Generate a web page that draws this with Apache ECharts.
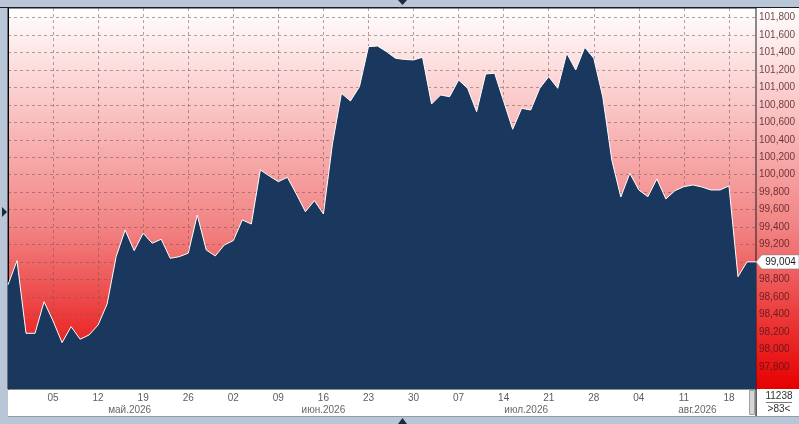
<!DOCTYPE html>
<html><head><meta charset="utf-8">
<script src="https://cdn.jsdelivr.net/npm/echarts@6/dist/echarts.min.js"></script>
<style>html,body{margin:0;padding:0;background:#b8c6d8;}#c{width:799px;height:424px;}</style>
</head><body><div id="c"></div>
<script>
// ---- data ----
const categories = [
 '2026-04-28','2026-04-29','2026-04-30','2026-05-01','2026-05-04',
 '2026-05-05','2026-05-06','2026-05-07','2026-05-08','2026-05-11',
 '2026-05-12','2026-05-13','2026-05-14','2026-05-15','2026-05-18',
 '2026-05-19','2026-05-20','2026-05-21','2026-05-22','2026-05-25',
 '2026-05-26','2026-05-27','2026-05-28','2026-05-29','2026-06-01',
 '2026-06-02','2026-06-03','2026-06-04','2026-06-05','2026-06-08',
 '2026-06-09','2026-06-10','2026-06-11','2026-06-12','2026-06-15',
 '2026-06-16','2026-06-17','2026-06-18','2026-06-19','2026-06-22',
 '2026-06-23','2026-06-24','2026-06-25','2026-06-26','2026-06-29',
 '2026-06-30','2026-07-01','2026-07-02','2026-07-03','2026-07-06',
 '2026-07-07','2026-07-08','2026-07-09','2026-07-10','2026-07-13',
 '2026-07-14','2026-07-15','2026-07-16','2026-07-17','2026-07-20',
 '2026-07-21','2026-07-22','2026-07-23','2026-07-24','2026-07-27',
 '2026-07-28','2026-07-29','2026-07-30','2026-07-31','2026-08-03',
 '2026-08-04','2026-08-05','2026-08-06','2026-08-07','2026-08-10',
 '2026-08-11','2026-08-12','2026-08-13','2026-08-14','2026-08-17',
 '2026-08-18','2026-08-19','2026-08-20','2026-08-21'
];
const values = [
 98742, 99018, 98188, 98188, 98549,
 98329, 98081, 98264, 98120, 98169,
 98283, 98523, 99064, 99369, 99132,
 99331, 99217, 99263, 99045, 99064,
 99103, 99540, 99140, 99072, 99197,
 99247, 99483, 99437, 100055, 99986,
 99921, 99971, 99780, 99578, 99704,
 99552, 100352, 100931, 100843, 101007,
 101464, 101472, 101407, 101331, 101318,
 101312, 101343, 100809, 100912, 100892,
 101083, 100988, 100721, 101152, 101160,
 100840, 100520, 100760, 100740, 100988,
 101121, 100988, 101389, 101198, 101457,
 101331, 100889, 100169, 99746, 100017,
 99826, 99749, 99952, 99723, 99818,
 99864, 99883, 99860, 99826, 99826,
 99872, 98835, 99004, 99004
];
const yTicks = [97800, 98000, 98200, 98400, 98600, 98800, 99000, 99200, 99400, 99600,
  99800, 100000, 100200, 100400, 100600, 100800, 101000, 101200, 101400, 101600, 101800];
const yRange = [97551, 101906];
const monthNames = {'04':'апр','05':'май','06':'июн','07':'июл','08':'авг'};
const infoTop = '11238';
const infoBottom = '>83<';

// ---- helpers ----
const FONT = 'Liberation Sans, Arial, sans-serif';
function fmt(v){ return String(Math.round(v)).replace(/\B(?=(\d{3})+(?!\d))/g, ','); }
function isWeekTick(i){ return i > 0 && i % 5 === 0; }

// month label positions from categories
const monthPos = [], monthText = {};
(function(){
  const groups = {};
  categories.forEach((d, i) => {
    const key = d.slice(0, 7);
    if (!groups[key]) groups[key] = [i, i]; else groups[key][1] = i;
  });
  Object.keys(groups).forEach(k => {
    const [a, b] = groups[k];
    if (b - a + 1 < 5) return;
    const p = (a + b) / 2 + 0.5;
    monthPos.push(p);
    monthText[String(p)] = monthNames[k.slice(5, 7)] + '.' + k.slice(0, 4);
  });
})();

const lastValue = values[values.length - 1];
const gridLine = { type: [3, 3], color: 'rgba(120,85,95,0.55)', width: 1 };

const bgGradient = {
  type: 'linear', x: 0, y: 0, x2: 0, y2: 1,
  colorStops: [
    { offset: 0, color: '#ffffff' },
    { offset: 0.24, color: '#fbcaca' },
    { offset: 0.34, color: '#f8b4b4' },
    { offset: 0.58, color: '#f28282' },
    { offset: 0.71, color: '#ee5a5a' },
    { offset: 0.84, color: '#ec3030' },
    { offset: 1, color: '#e60000' }
  ]
};

const chart = echarts.init(document.getElementById('c'), null, { renderer: 'canvas' });
chart.setOption({
  backgroundColor: '#b8c6d8',
  animation: false,
  graphic: { elements: [
    { type: 'rect', z: -100, shape: { x: 8, y: 8, width: 791, height: 381 }, style: { fill: bgGradient } },
    { type: 'rect', z: -100, shape: { x: 8, y: 389, width: 748, height: 27 }, style: { fill: '#ffffff' } },
    { type: 'rect', z: -100, shape: { x: 757, y: 389, width: 42, height: 27 }, style: { fill: '#ffffff' } },
    { type: 'line', z: 10, shape: { x1: 756, y1: 389, x2: 756, y2: 416 }, style: { stroke: '#000', lineWidth: 1 } },
    { type: 'rect', z: 10, shape: { x: 749.5, y: 390.5, width: 5, height: 24 }, style: { fill: '#d6d6d6', stroke: '#a0a0a0', lineWidth: 1 } },
    { type: 'line', z: 10, shape: { x1: 0, y1: 7.5, x2: 799, y2: 7.5 }, style: { stroke: '#1c1c1c', lineWidth: 1 } },
    { type: 'line', z: 10, shape: { x1: 8, y1: 416.5, x2: 799, y2: 416.5 }, style: { stroke: '#8e9cab', lineWidth: 1 } },
    { type: 'text', z: 10, style: { text: infoTop, x: 779, y: 396, align: 'center', verticalAlign: 'middle', font: '10px ' + FONT, fill: '#333' } },
    { type: 'line', z: 10, shape: { x1: 766, y1: 402.5, x2: 792, y2: 402.5 }, style: { stroke: '#777', lineWidth: 1 } },
    { type: 'text', z: 10, style: { text: infoBottom, x: 779, y: 409, align: 'center', verticalAlign: 'middle', font: '10px ' + FONT, fill: '#333' } },
    { type: 'polygon', z: 10, shape: { points: [[398, 0], [407, 0], [402.5, 5]] }, style: { fill: '#1d2b3c' } },
    { type: 'polygon', z: 10, shape: { points: [[398, 424], [407, 424], [402.5, 418]] }, style: { fill: '#1d2b3c' } },
    { type: 'polygon', z: 10, shape: { points: [[2, 207], [2, 217], [7, 212]] }, style: { fill: '#1d2b3c' } }
  ]},
  grid: { left: 8, right: 43, top: 8, bottom: 35, show: true, backgroundColor: 'transparent', borderColor: '#1c1c1c', borderWidth: 1 },
  xAxis: [
    {
      type: 'category', data: categories, boundaryGap: false,
      axisLine: { show: false }, axisTick: { show: false },
      axisLabel: { interval: isWeekTick, formatter: v => v.slice(8), color: '#5c5c5c', fontSize: 10, margin: 4, fontFamily: FONT },
      splitLine: { show: true, interval: isWeekTick, lineStyle: gridLine }
    },
    {
      type: 'value', min: 0, max: categories.length - 1, position: 'bottom', offset: 12,
      axisLine: { show: false }, axisTick: { show: false }, splitLine: { show: false },
      axisLabel: { customValues: monthPos, formatter: v => monthText[String(v)] || '', color: '#666', fontSize: 10, margin: 4, fontFamily: FONT }
    }
  ],
  yAxis: {
    type: 'value', position: 'right', min: yRange[0], max: yRange[1],
    axisLine: { show: true, lineStyle: { color: '#000', width: 1 } },
    axisTick: { show: false, customValues: yTicks },
    axisLabel: { customValues: yTicks, formatter: fmt, color: 'rgba(75,20,25,0.8)', fontSize: 10, margin: 3, fontFamily: FONT },
    splitLine: { show: true, lineStyle: gridLine }
  },
  series: [{
    type: 'line', data: values, symbol: 'none', clip: false,
    lineStyle: { color: '#ffffff', width: 1 },
    areaStyle: { color: '#1a375d', opacity: 1, origin: 'start' },
    markPoint: {
      symbol: 'path://M0,7L6,0L44,0L44,14L6,14Z',
      symbolSize: [43, 14], symbolOffset: ['50%', 0],
      itemStyle: { color: '#ffffff', borderColor: '#888', borderWidth: 0.5 },
      label: { show: true, position: 'inside', offset: [3, 0], formatter: p => fmt(p.value), color: '#1a1a1a', fontSize: 10, fontFamily: FONT },
      data: [{ coord: [categories.length - 1, lastValue], value: lastValue }]
    }
  }]
});
</script></body></html>
